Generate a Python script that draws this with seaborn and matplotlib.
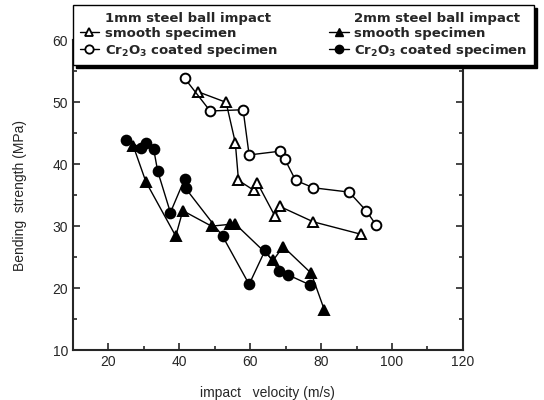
import matplotlib
matplotlib.use('Agg')
import matplotlib.pyplot as plt
import seaborn as sns
import pandas as pd
from matplotlib.lines import Line2D
from matplotlib.ticker import MultipleLocator

# 1mm ball, smooth specimen (open triangles)
v_1mm_smooth = [45.3, 53.2, 55.8, 56.7, 61.0, 62.0, 67.0, 68.3, 77.8, 91.2]
s_1mm_smooth = [51.7, 50.0, 43.5, 37.4, 35.8, 37.0, 31.6, 33.2, 30.7, 28.7]
# 1mm ball, Cr2O3 coated (open circles)
v_1mm_coat = [41.5, 48.7, 58.0, 59.7, 68.3, 69.7, 72.8, 77.8, 87.9, 92.7, 95.5]
s_1mm_coat = [53.9, 48.6, 48.8, 41.5, 42.1, 40.9, 37.4, 36.2, 35.5, 32.5, 30.2]
# 2mm ball, smooth specimen (filled triangles)
v_2mm_smooth = [27.0, 30.6, 30.6, 39.0, 41.0, 49.1, 54.3, 55.7, 66.5, 69.3, 77.2, 80.9]
s_2mm_smooth = [43.0, 37.9, 36.4, 28.4, 32.5, 30.0, 30.3, 30.4, 24.5, 26.7, 22.4, 16.5]
# 2mm ball, Cr2O3 coated (filled circles)
v_2mm_coat = [25.1, 29.2, 30.7, 32.8, 33.9, 37.5, 41.5, 41.8, 52.2, 59.7, 64.2, 68.1, 70.8, 76.9]
s_2mm_coat = [43.9, 42.6, 43.5, 42.4, 38.9, 32.2, 37.6, 36.1, 28.4, 20.6, 26.1, 22.8, 22.1, 20.5]

sns.set_style('ticks')
plt.rcParams['font.family'] = ['Liberation Sans', 'DejaVu Sans']
plt.rcParams['mathtext.default'] = 'regular'

fig = plt.figure(figsize=(5.44, 4.0), dpi=100)
ax = fig.add_axes([0.134, 0.125, 0.717, 0.774])

series = [
    (v_1mm_smooth, s_1mm_smooth, '^', 'white'),
    (v_1mm_coat, s_1mm_coat, 'o', 'white'),
    (v_2mm_smooth, s_2mm_smooth, '^', 'black'),
    (v_2mm_coat, s_2mm_coat, 'o', 'black'),
]
for v, s, m, fc in series:
    df = pd.DataFrame({'v': v, 's': s})
    sns.lineplot(data=df, x='v', y='s', sort=False, ax=ax, color='black', lw=1.0,
                 marker=m, markersize=7, markerfacecolor=fc, markeredgecolor='black',
                 markeredgewidth=1.4)

ax.set_xlim(10, 120)
ax.set_ylim(10, 60)
ax.xaxis.set_major_locator(MultipleLocator(20))
ax.xaxis.set_minor_locator(MultipleLocator(10))
ax.yaxis.set_major_locator(MultipleLocator(10))
ax.yaxis.set_minor_locator(MultipleLocator(5))
ax.tick_params(which='both', direction='in', right=True, top=True, width=1.2)
ax.tick_params(which='major', length=5, labelsize=10)
ax.tick_params(which='minor', length=3)
for sp in ax.spines.values():
    sp.set_linewidth(1.5)
ax.set_xlabel('impact   velocity (m/s)', fontsize=10, labelpad=12)
ax.set_ylabel('Bending  strength (MPa)', fontsize=10, labelpad=18)

blank = Line2D([], [], linestyle='none', marker='none')
h1 = Line2D([], [], color='k', lw=1, marker='^', ms=6, mfc='white', mec='k', mew=1.3)
h2 = Line2D([], [], color='k', lw=1, marker='o', ms=6, mfc='white', mec='k', mew=1.3)
h3 = Line2D([], [], color='k', lw=1, marker='^', ms=6, mfc='black', mec='k')
h4 = Line2D([], [], color='k', lw=1, marker='o', ms=6, mfc='black', mec='k')
handles = [blank, h1, h2, blank, h3, h4]
labels = ['1mm steel ball impact', 'smooth specimen', 'Cr$_2$O$_3$ coated specimen',
          '2mm steel ball impact', 'smooth specimen', 'Cr$_2$O$_3$ coated specimen']
leg = ax.legend(handles, labels, ncol=2, loc='upper left',
                bbox_to_anchor=(73 / 544, 1 - 5 / 400), bbox_transform=fig.transFigure,
                borderaxespad=0, frameon=True, fancybox=False,
                shadow={'color': 'black', 'alpha': 1},
                prop={'family': 'DejaVu Sans', 'weight': 'bold', 'size': 9.5},
                handlelength=1.5, handletextpad=0.4, labelspacing=0.15,
                borderpad=0.5, columnspacing=3.9)
leg.get_frame().set_edgecolor('black')
leg.get_frame().set_linewidth(1.0)
leg.get_frame().set_alpha(1)

fig.savefig('out.png', dpi=100)
